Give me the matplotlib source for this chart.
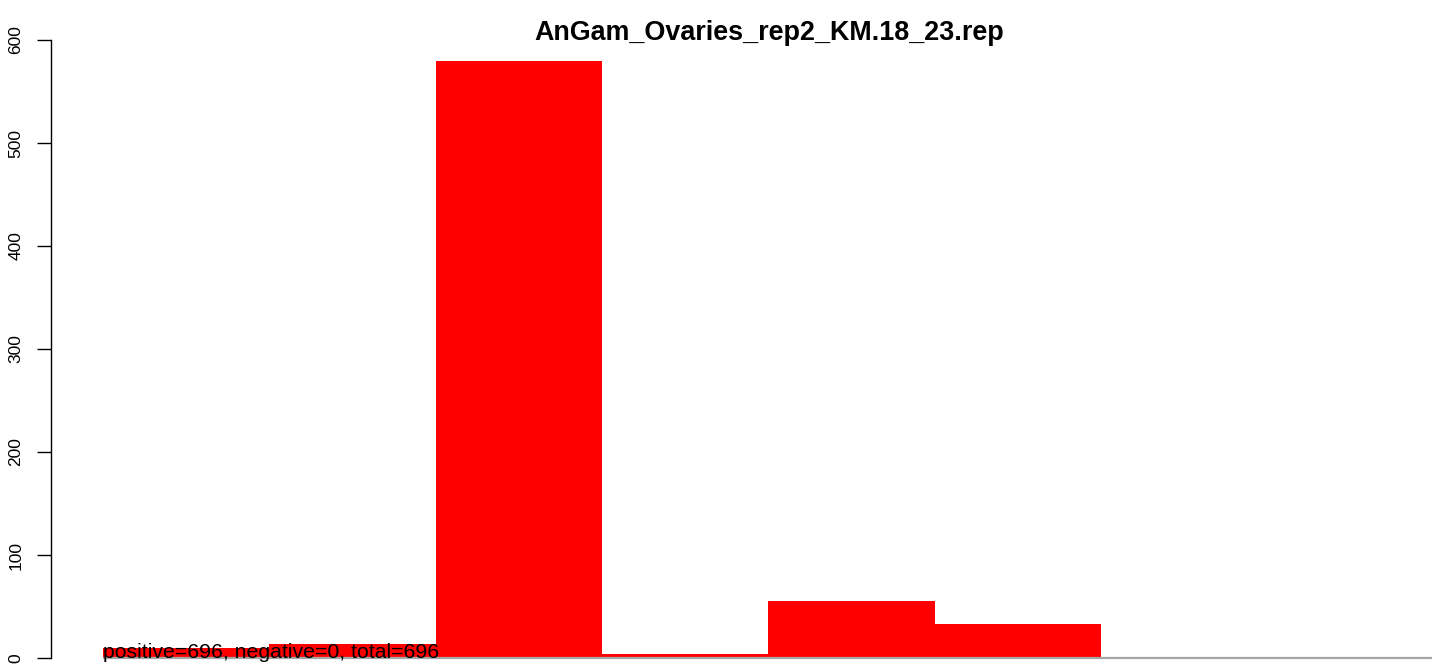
import matplotlib
matplotlib.use("Agg")
import matplotlib.pyplot as plt
import numpy as np

plt.rcParams['font.family'] = ['Liberation Sans', 'DejaVu Sans']

title = "AnGam_Ovaries_rep2_KM.18_23.rep"
counts = [10, 14, 580, 4, 55, 33]
yticks = [0, 100, 200, 300, 400, 500, 600]
note = "positive=696, negative=0, total=696"

W, H = 1432, 664
fig = plt.figure(figsize=(W / 100, H / 100), dpi=100)

# pixel layout
ax_left, ax_right, ax_top, ax_bottom = 51, 1432, 20, 664
y0_px, y600_px = 658, 40
bar_l_px, bar_r_px = 103, 1101

ax = fig.add_axes([ax_left / W, 1 - ax_bottom / H,
                   (ax_right - ax_left) / W, (ax_bottom - ax_top) / H])
ppu = (y0_px - y600_px) / 600.0
bw = (bar_r_px - bar_l_px) / len(counts)
ax.set_ylim((y0_px - ax_bottom) / ppu, (y0_px - ax_top) / ppu)
ax.set_xlim((ax_left - bar_l_px) / bw, (ax_right - bar_l_px) / bw)

x = np.arange(len(counts))
ax.bar(x, counts, width=1.0, align='edge', color='#ff0000', linewidth=0, zorder=2)
ax.plot([0, ax.get_xlim()[1]], [0, 0], color='#a6a6a6', lw=1.6, zorder=3,
        solid_capstyle='butt', clip_on=False)

for s in ['top', 'right', 'bottom']:
    ax.spines[s].set_visible(False)
ax.spines['left'].set_bounds(0, 600)
ax.spines['left'].set_linewidth(1.0)
ax.set_xticks([])
ax.set_yticks(yticks)
ax.set_yticklabels([str(t) for t in yticks], rotation=90, va='center', fontsize=12.5)
ax.tick_params(axis='y', length=10, width=1.0, pad=10.0)

ax.text(0, 0, note, ha='left', va='baseline', fontsize=15.3, color='black', zorder=4)

fig.text(769 / W, 1 - 40 / H, title, ha='center', va='baseline',
         fontsize=19.4, fontweight='bold')

fig.savefig("out.png", dpi=100)
